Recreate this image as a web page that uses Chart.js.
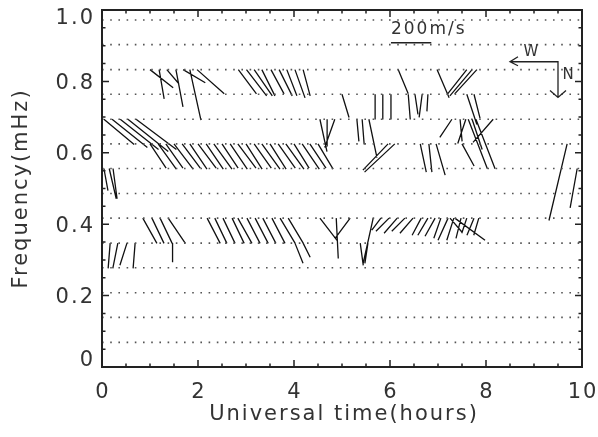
<!DOCTYPE html>
<html>
<head>
<meta charset="utf-8">
<script src="https://cdn.jsdelivr.net/npm/chart.js@4.4.0/dist/chart.umd.min.js"></script>
<style>
html, body { margin: 0; padding: 0; background: #fff; }
</style>
</head>
<body>
<canvas id="graph" width="598" height="437"></canvas>
<script>
// Frequency rows (mHz) of the dotted lines, one every 1/(4 h)
var freqLines = [0.069, 0.139, 0.208, 0.278, 0.347, 0.417, 0.486, 0.556, 0.625, 0.694, 0.764, 0.833, 0.903, 0.972];
// Tick labels
var xLabels = ['0', '2', '4', '6', '8', '10'];
var yLabels = ['0', '0.2', '0.4', '0.6', '0.8', '1.0'];

// Velocity vectors per frequency row: [UT hours, east m/s, north m/s]
var band833 = [
    [1.00, 115, 90], [1.19, 25, 145], [1.35, 60, 70], [1.54, 35, 185], [1.69, 110, 65],
    [1.83, 55, 250], [1.98, 135, 120],
    [2.84, 90, 120], [3.01, 100, 130], [3.17, 90, 130], [3.33, 65, 130], [3.52, 65, 120],
    [3.69, 65, 130], [3.85, 50, 130], [4.02, 50, 140], [4.19, 35, 130],
    [6.17, 50, 120], [6.98, 60, 140], [7.60, -95, 120], [7.71, -110, 130], [7.81, -110, 120]
];
var band764 = [
    [5.00, 35, 115], [5.69, 0, 125], [5.85, 0, 125], [6.02, 0, 125], [6.38, 10, 125],
    [6.52, 15, 100], [6.67, -15, 115], [6.79, -5, 85], [7.60, 50, 150], [7.75, 30, 120]
];
var band694 = [
    [0.04, 150, 125], [0.21, 175, 140], [0.38, 190, 150], [0.54, 200, 160], [0.71, 200, 150],
    [4.54, 35, 160], [4.69, 0, 135], [4.85, -50, 140], [5.31, 10, 110], [5.42, 10, 125],
    [5.56, 40, 190], [7.29, -60, 90], [7.46, 10, 110], [7.58, -40, 120], [7.63, 95, 245],
    [7.71, 50, 150], [7.79, 95, 245], [8.15, -100, 115]
];
var band625 = [
    [1.00, 80, 120], [1.17, 90, 125], [1.33, 85, 120], [1.50, 95, 125], [1.67, 90, 120],
    [1.83, 85, 125], [2.00, 90, 120], [2.17, 85, 125], [2.33, 90, 125], [2.50, 80, 120],
    [2.67, 85, 125], [2.83, 90, 120], [3.00, 80, 125], [3.17, 85, 120], [3.33, 90, 125],
    [3.50, 80, 125], [3.67, 85, 120], [3.83, 90, 125], [4.00, 75, 120], [4.17, 85, 125],
    [4.33, 80, 120], [4.50, 75, 125],
    [5.96, -125, 130], [6.10, -150, 140], [6.63, 30, 140], [6.81, 15, 140], [6.96, 45, 155],
    [7.50, 60, 110], [9.69, -90, 380]
];
var band556 = [
    [0.04, 20, 110], [0.15, 35, 150], [0.23, 20, 150], [9.90, -35, 195]
];
var band417 = [
    [0.85, 70, 125], [1.04, 60, 125], [1.21, 60, 125], [1.38, 85, 125],
    [2.19, 65, 125], [2.35, 60, 125], [2.52, 60, 125], [2.71, 60, 125], [2.83, 70, 125],
    [3.02, 65, 125], [3.19, 65, 125], [3.35, 65, 125], [3.54, 65, 125], [3.71, 75, 125],
    [3.88, 75, 125],
    [4.54, 85, 110], [4.88, 10, 200], [5.17, -75, 100], [5.65, -50, 225],
    [5.81, -45, 60], [5.98, -65, 65], [6.15, -65, 75], [6.31, -65, 65], [6.48, -65, 75],
    [6.65, -45, 85], [6.79, -50, 85], [6.94, -50, 90], [7.06, -35, 100], [7.21, -50, 110],
    [7.33, -35, 110], [7.48, -25, 100], [7.60, -25, 75], [7.75, -35, 85], [7.85, -25, 85],
    [7.25, 60, 70], [7.35, 150, 110]
];
var band347 = [
    [0.00, 0, 110], [0.17, -10, 125], [0.33, -25, 125], [0.52, -35, 110], [0.69, -10, 125],
    [1.47, 0, 95], [4.02, 40, 100], [4.19, 35, 70], [5.38, 15, 110], [5.54, -15, 100]
];

// Speed key: 200 m/s drawn as this much time / frequency
var keySpeed = 200;
var keyHours = 0.84;
var keyMHz = 0.113;

var bands = [
    { freq: 0.833, rows: band833 }, { freq: 0.764, rows: band764 }, { freq: 0.694, rows: band694 },
    { freq: 0.625, rows: band625 }, { freq: 0.556, rows: band556 }, { freq: 0.417, rows: band417 },
    { freq: 0.347, rows: band347 }
];

// Build vector segments (north points down the frequency axis)
var segs = [];
bands.forEach(function (b) {
    b.rows.forEach(function (r) {
        segs.push({ x: r[0], y: b.freq });
        segs.push({ x: r[0] + r[1] / keySpeed * keyHours, y: b.freq - r[2] / keySpeed * keyMHz });
        segs.push({ x: r[0], y: null });
    });
});
// Dotted rows
var rows = [];
freqLines.forEach(function (f) {
    rows.push({ x: 0, y: f });
    rows.push({ x: 10, y: f });
    rows.push({ x: 10, y: null });
});

var FONT = '"DejaVu Sans ExtraLight", "DejaVu Sans", sans-serif';
var INK = '#222';

var boxPlugin = {
    id: 'box',
    afterDraw: function (chart) {
        var ctx = chart.ctx, a = chart.chartArea;
        var xs = chart.scales.x, ys = chart.scales.y;
        ctx.save();
        ctx.strokeStyle = INK;
        ctx.lineWidth = 2;
        ctx.strokeRect(a.left, a.top, a.right - a.left, a.bottom - a.top);
        // inward ticks on all four sides
        ctx.lineWidth = 1.5;
        ctx.beginPath();
        var i, p, len;
        for (i = 0; i <= 20; i++) {
            p = xs.getPixelForValue(i * 0.5);
            len = i % 4 === 0 ? 7 : 3.5;
            ctx.moveTo(p, a.bottom); ctx.lineTo(p, a.bottom - len);
            ctx.moveTo(p, a.top); ctx.lineTo(p, a.top + len);
        }
        for (i = 0; i <= 20; i++) {
            p = ys.getPixelForValue(i * 0.05);
            len = i % 4 === 0 ? 7 : 3.5;
            ctx.moveTo(a.left, p); ctx.lineTo(a.left + len, p);
            ctx.moveTo(a.right, p); ctx.lineTo(a.right - len, p);
        }
        ctx.stroke();

        // tick labels
        ctx.fillStyle = '#333';
        ctx.letterSpacing = '2px';
        ctx.font = '21px ' + FONT;
        ctx.textAlign = 'center';
        ctx.textBaseline = 'middle';
        xLabels.forEach(function (lab) {
            ctx.fillText(lab, xs.getPixelForValue(+lab) + 1, a.bottom + 26);
        });
        ctx.textAlign = 'right';
        yLabels.forEach(function (lab, k) {
            var py = ys.getPixelForValue(+lab) + 2;
            if (k === 0) py -= 8;
            if (k === yLabels.length - 1) py += 7;
            ctx.fillText(lab, a.left - 7, py);
        });

        // axis titles
        ctx.textAlign = 'center';
        ctx.fillText('Universal time(hours)', (a.left + a.right) / 2 + 2, a.bottom + 48);
        ctx.save();
        ctx.translate(22, (a.top + a.bottom) / 2);
        ctx.rotate(-Math.PI / 2);
        ctx.fillText('Frequency(mHz)', 0, 0);
        ctx.restore();

        // speed key
        var kx = xs.getPixelForValue(6.02), ky = ys.getPixelForValue(0.908);
        var kx2 = xs.getPixelForValue(6.02 + keyHours);
        ctx.lineWidth = 1.5;
        ctx.beginPath();
        ctx.moveTo(kx, ky); ctx.lineTo(kx2, ky);
        ctx.stroke();
        ctx.font = '17px ' + FONT;
        ctx.textAlign = 'left';
        ctx.fillText('200m/s', kx, ky - 13);

        // direction arrows
        var cx = xs.getPixelForValue(9.5), cy = ys.getPixelForValue(0.855);
        var wx = xs.getPixelForValue(8.5), ny = ys.getPixelForValue(0.755);
        ctx.lineWidth = 1.3;
        ctx.beginPath();
        ctx.moveTo(wx, cy); ctx.lineTo(cx, cy); ctx.lineTo(cx, ny);
        ctx.moveTo(wx + 8, cy - 5); ctx.lineTo(wx, cy); ctx.lineTo(wx + 8, cy + 4);
        ctx.moveTo(cx - 8, ny - 7); ctx.lineTo(cx, ny); ctx.lineTo(cx + 8, ny - 7);
        ctx.stroke();
        ctx.font = '15px ' + FONT;
        ctx.letterSpacing = '0px';
        ctx.textAlign = 'center';
        ctx.fillText('W', wx + 21, cy - 10);
        ctx.fillText('N', cx + 10, cy + 13);
        ctx.restore();
    }
};

var config = {
    type: 'line',
    data: {
        datasets: [
            {
                data: rows,
                borderColor: '#555',
                borderWidth: 1.6,
                borderDash: [1.6, 6.6],
                pointRadius: 0,
                tension: 0,
                spanGaps: false
            },
            {
                data: segs,
                borderColor: '#111',
                borderWidth: 1.3,
                pointRadius: 0,
                tension: 0,
                spanGaps: false
            }
        ]
    },
    options: {
        responsive: false,
        animation: false,
        events: [],
        layout: { padding: { left: 102, right: 16, top: 10, bottom: 70 } },
        plugins: { legend: { display: false }, tooltip: { enabled: false } },
        scales: {
            x: { type: 'linear', min: 0, max: 10, display: false },
            y: { type: 'linear', min: 0, max: 1, display: false }
        }
    },
    plugins: [boxPlugin]
};

new Chart(document.getElementById('graph'), config);
</script>
</body>
</html>
